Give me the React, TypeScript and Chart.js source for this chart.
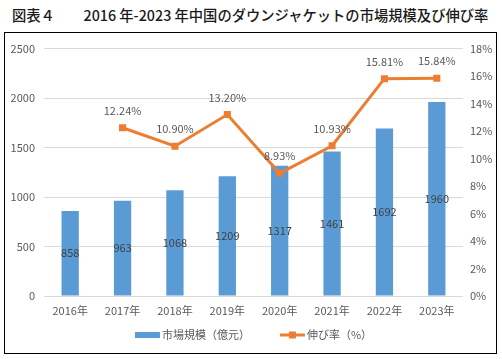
import React, { useEffect, useRef } from "react";
import { Chart, registerables } from "chart.js";

Chart.register(...registerables);

const categories = ["2016年", "2017年", "2018年", "2019年", "2020年", "2021年", "2022年", "2023年"];
const marketSize = [858, 963, 1068, 1209, 1317, 1461, 1692, 1960];
const growthRate = [null, 12.24, 10.9, 13.2, 8.93, 10.93, 15.81, 15.84];
const barLabel = "市場規模（億元）";
const lineLabel = "伸び率（%）";
const titleText = "図表４　　2016 年-2023 年中国のダウンジャケットの市場規模及び伸び率";

const BAR_COLOR = "#5B9BD5";
const LINE_COLOR = "#ED7D31";
const FONT = "'Noto Sans CJK JP', 'Noto Sans', sans-serif";

const labelsPlugin = {
  id: "valueLabels",
  afterDatasetsDraw(chart: any) {
    const ctx = chart.ctx;
    ctx.save();
    ctx.font = `11px ${FONT}`;
    ctx.textAlign = "center";
    ctx.textBaseline = "middle";
    const barMeta = chart.getDatasetMeta(0);
    barMeta.data.forEach((el: any, i: number) => {
      const v = chart.data.datasets[0].data[i];
      if (v == null) return;
      const y = (el.y + el.base) / 2;
      ctx.fillStyle = "#404040";
      ctx.fillText(String(v), el.x, y);
    });
    const lineMeta = chart.getDatasetMeta(1);
    lineMeta.data.forEach((el: any, i: number) => {
      const v = chart.data.datasets[1].data[i];
      if (v == null) return;
      ctx.fillStyle = "#595959";
      ctx.fillText(Number(v).toFixed(2) + "%", el.x, el.y - 17);
    });
    ctx.restore();
  },
};

const legendPlugin = {
  id: "customLegend",
  afterDraw(chart: any) {
    const ctx = chart.ctx;
    ctx.save();
    ctx.font = `11px ${FONT}`;
    ctx.textBaseline = "middle";
    ctx.textAlign = "left";
    const y = 302;
    const swatch = 25;
    const gap = 2;
    const between = 30;
    const t1 = chart.data.datasets[0].label;
    const t2 = chart.data.datasets[1].label;
    const w1 = swatch + gap + ctx.measureText(t1).width;
    const w2 = swatch + gap + ctx.measureText(t2).width;
    const total = w1 + between + w2;
    let x = (chart.chartArea.left + chart.chartArea.right) / 2 - total / 2;
    ctx.fillStyle = BAR_COLOR;
    ctx.fillRect(x, y - 3, swatch, 6);
    ctx.fillStyle = "#595959";
    ctx.fillText(t1, x + swatch + gap, y);
    x += w1 + between;
    ctx.strokeStyle = LINE_COLOR;
    ctx.lineWidth = 3;
    ctx.beginPath();
    ctx.moveTo(x, y);
    ctx.lineTo(x + swatch, y);
    ctx.stroke();
    ctx.fillStyle = LINE_COLOR;
    ctx.fillRect(x + swatch / 2 - 3.5, y - 3.5, 7, 7);
    ctx.fillStyle = "#595959";
    ctx.fillText(t2, x + swatch + gap, y);
    ctx.restore();
  },
};

export default function App() {
  const ref = useRef<HTMLCanvasElement>(null);
  useEffect(() => {
    if (!ref.current) return;
    const chart = new Chart(ref.current, {
      type: "bar",
      data: {
        labels: categories,
        datasets: [
          {
            type: "bar",
            label: barLabel,
            data: marketSize,
            backgroundColor: BAR_COLOR,
            barPercentage: 0.33,
            categoryPercentage: 1,
            yAxisID: "y",
            order: 2,
          },
          {
            type: "line",
            label: lineLabel,
            data: growthRate as any,
            borderColor: LINE_COLOR,
            backgroundColor: LINE_COLOR,
            borderWidth: 3,
            pointStyle: "rect",
            pointRadius: 5,
            pointBorderWidth: 0,
            tension: 0,
            yAxisID: "y1",
            order: 1,
          } as any,
        ],
      },
      options: {
        animation: false,
        responsive: false,
        maintainAspectRatio: false,
        layout: { padding: { top: 13, left: 0, right: 0, bottom: 31 } },
        plugins: {
          legend: { display: false },
          tooltip: { enabled: false },
          title: { display: false },
        },
        scales: {
          x: {
            offset: true,
            grid: { display: false, drawTicks: false },
            border: { display: false },
            ticks: { color: "#595959", font: { family: FONT, size: 11 }, padding: 8, maxRotation: 0 },
            afterFit(scale: any) {
              scale.height = 26;
            },
          },
          y: {
            position: "left",
            min: 0,
            max: 2500,
            ticks: {
              stepSize: 500,
              color: "#595959",
              font: { family: FONT, size: 11 },
              padding: 9,
              callback: (v: any) => String(v),
            },
            grid: { color: "#D9D9D9", drawTicks: false, lineWidth: 1 },
            border: { display: false },
            afterFit(scale: any) {
              scale.width = 39;
            },
          },
          y1: {
            position: "right",
            min: 0,
            max: 18,
            ticks: {
              stepSize: 2,
              color: "#595959",
              font: { family: FONT, size: 11 },
              padding: 7,
              callback: (v: any) => v + "%",
            },
            grid: { display: false, drawTicks: false },
            border: { display: false },
            afterFit(scale: any) {
              scale.width = 33;
            },
          },
        },
      },
      plugins: [labelsPlugin, legendPlugin],
    });
    return () => chart.destroy();
  }, []);

  return (
    <div style={{ position: "absolute", left: 0, top: 0, width: 502, height: 359, background: "#fff" }}>
      <div
        style={{
          position: "absolute",
          left: 12,
          top: 5,
          fontFamily: FONT,
          fontSize: 14.3,
          fontWeight: 500,
          color: "#1a1a1a",
          whiteSpace: "pre",
          lineHeight: "20px",
        }}
      >
        {titleText}
      </div>
      <div
        style={{
          position: "absolute",
          left: 4,
          top: 32,
          width: 491,
          height: 320,
          border: "1px solid #000",
        }}
      >
        <canvas ref={ref} width={491} height={320} style={{ position: "absolute", left: 0, top: 0 }} />
      </div>
    </div>
  );
}
